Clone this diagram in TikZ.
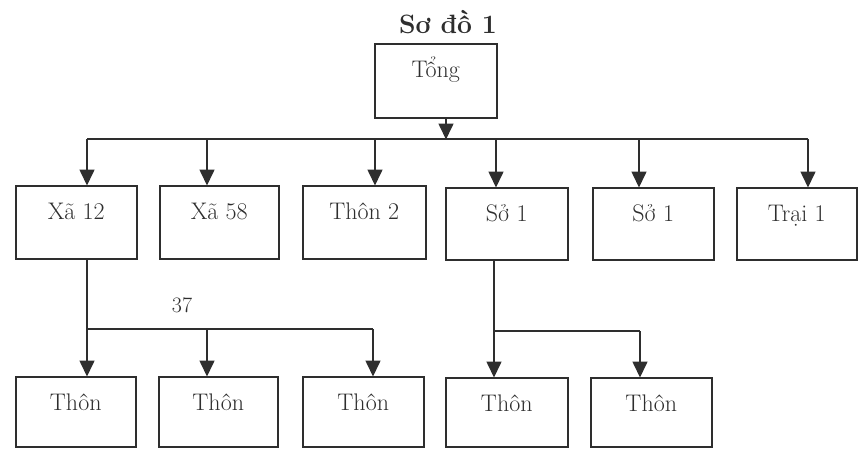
\documentclass[tikz,border=0pt]{standalone}
\usepackage{fontspec}
\setmainfont{Latin Modern Roman}
\usetikzlibrary{arrows.meta}
\definecolor{ink}{HTML}{2E2E2E}
\tikzset{
  box/.style={draw=ink, line width=1.5pt, rectangle, anchor=north west,
    inner xsep=0pt, inner ysep=0pt, text height=34pt, text=ink,
    font=\fontsize{24}{28}\selectfont},
  conn/.style={draw=ink, line width=1.6pt},
  arr/.style={conn, -{Triangle[length=16pt,width=15pt]}, shorten >=-0.5pt},
}
\begin{document}
\begin{tikzpicture}[x=1pt,y=-1pt]
\useasboundingbox (0,0) rectangle (859,448);
% title
\node[anchor=base, text=ink, font=\fontsize{26.5}{30}\selectfont\bfseries] (title) at (448,33) {Sơ đồ 1};
% root
\node[box, minimum width=122pt, text depth=40pt] (tong) at (374,43) {Tổng};
% top row
\node[box, minimum width=121pt, text depth=39pt] (xa12) at (15,185) {Xã 12};
\node[box, minimum width=119pt, text depth=39pt] (xa58) at (159,185) {Xã 58};
\node[box, minimum width=123pt, text depth=39pt] (thon2) at (302,185) {Thôn 2};
\node[box, minimum width=122pt, text depth=38pt] (so1) at (445,187) {Sở 1};
\node[box, minimum width=121pt, text depth=38pt] (so1b) at (592,187) {Sở 1};
\node[box, minimum width=120pt, text depth=38pt] (trai1) at (736,187) {Trại 1};
% bottom row
\node[box, minimum width=120pt, text depth=36pt] (ta) at (15,376) {Thôn};
\node[box, minimum width=119pt, text depth=36pt] (tb) at (158,376) {Thôn};
\node[box, minimum width=121pt, text depth=36pt] (tc) at (302,376) {Thôn};
\node[box, minimum width=122pt, text depth=35pt] (td) at (445,377) {Thôn};
\node[box, minimum width=121pt, text depth=35pt] (te) at (590,377) {Thôn};
% bus coordinates
\coordinate (bt) at (446,139);
\coordinate (b1) at (87,139);
\coordinate (b2) at (207,139);
\coordinate (b3) at (375,139);
\coordinate (b4) at (496,139);
\coordinate (b5) at (639,139);
\coordinate (b6) at (808,139);
\draw[arr] (tong.south -| bt) -- (bt);
\draw[conn] (b1) -- (b6);
\draw[arr] (b1) -- (b1 |- xa12.north);
\draw[arr] (b2) -- (b2 |- xa58.north);
\draw[arr] (b3) -- (b3 |- thon2.north);
\draw[arr] (b4) -- (b4 |- so1.north);
\draw[arr] (b5) -- (b5 |- so1b.north);
\draw[arr] (b6) -- (b6 |- trai1.north);
% left branch
\coordinate (c1) at (87,329);
\coordinate (c2) at (207,329);
\coordinate (c3) at (373,329);
\draw[arr] (xa12.south -| c1) -- (c1 |- ta.north);
\draw[conn] (c1) -- (c3);
\draw[arr] (c2) -- (c2 |- tb.north);
\draw[arr] (c3) -- (c3 |- tc.north);
\node[text=ink, font=\fontsize{22}{26}\selectfont, anchor=base] (n37) at (182,312) {37};
% right branch
\coordinate (d1) at (494,331);
\coordinate (d2) at (640,331);
\draw[arr] (so1.south -| d1) -- (d1 |- td.north);
\draw[conn] (d1) -- (d2);
\draw[arr] (d2) -- (d2 |- te.north);
\end{tikzpicture}
\end{document}
